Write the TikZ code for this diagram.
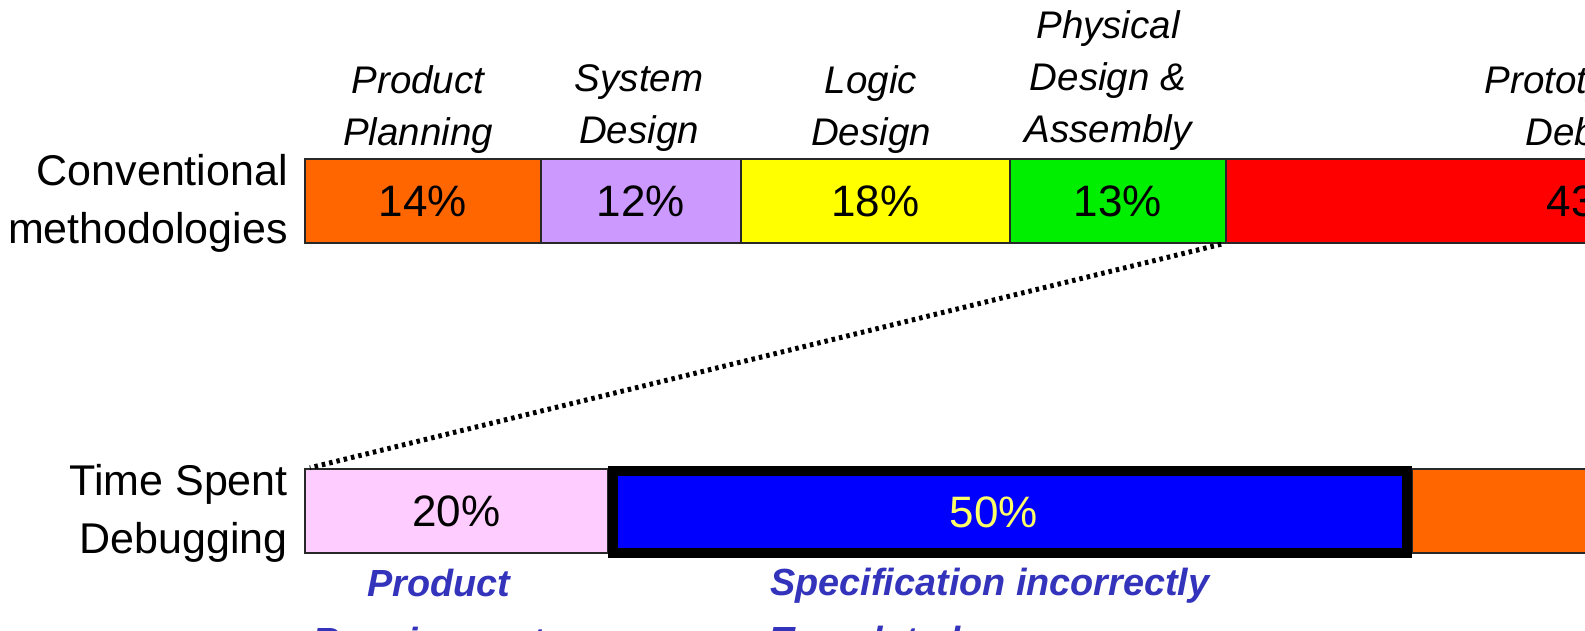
\documentclass[tikz,border=0pt]{standalone}
\usepackage{fontspec}
\setmainfont{Liberation Sans}
\definecolor{cOrange}{RGB}{255,102,0}
\definecolor{cPurple}{RGB}{204,153,255}
\definecolor{cYellow}{RGB}{255,255,0}
\definecolor{cGreen}{RGB}{0,238,0}
\definecolor{cRed}{RGB}{255,0,0}
\definecolor{cPink}{RGB}{255,204,255}
\definecolor{cBlue}{RGB}{0,0,255}
\definecolor{cLabel}{RGB}{51,51,187}
\definecolor{cPale}{RGB}{255,255,102}
\definecolor{cEdge}{RGB}{40,40,40}
\begin{document}
\begin{tikzpicture}[x=1pt,y=-1pt,
  seg/.style={draw=cEdge, line width=1.3pt, inner sep=0pt, outer sep=0pt,
    anchor=north west, minimum height=84pt, font=\fontsize{44}{44}\selectfont},
  phase/.style={anchor=north, align=center, inner sep=0pt,
    font=\fontsize{38.5}{52}\selectfont\itshape},
  rowlabel/.style={anchor=north east, align=right, inner sep=0pt,
    font=\fontsize{43}{58}\selectfont},
  cause/.style={anchor=north, inner sep=0pt, text=cLabel,
    font=\fontsize{37.8}{58}\selectfont\bfseries\itshape},
  dotline/.style={line width=5pt, dash pattern=on 3.5pt off 4pt}
]
\useasboundingbox (0,0) rectangle (1585,630);
\clip (0,0) rectangle (1585,630);

% row labels
\node[rowlabel] (conv) at (288,154) {Conventional\\methodologies};
\node[rowlabel] (tsd) at (288,464) {Time Spent\\Debugging};

% top bar
\node[seg, fill=cOrange, minimum width=236pt] (pp) at (305,159) {14\%};
\node[seg, fill=cPurple, minimum width=200pt] (sd) at (541,159) {12\%};
\node[seg, fill=cYellow, minimum width=269pt] (ld) at (741,159) {18\%};
\node[seg, fill=cGreen, minimum width=216pt] (pd) at (1010,159) {13\%};
\node[seg, fill=cRed, minimum width=730pt] (pr) at (1226,159) {43\%};

% phase labels
\node[phase] (lpp) at (418,65) {Product\\Planning};
\node[phase] (lsd) at (639,64.5) {System\\Design};
\node[phase] (lld) at (871,65) {Logic\\Design};
\node[phase] (lpd) at (1108,10) {Physical\\Design \&\\Assembly};
\node[phase] (lpr) at (1582,65) {Prototyping\\Debug};

% bottom bar
\node[seg, fill=cPink, minimum width=303pt] (req) at (305,469) {20\%};
\node[seg, fill=cOrange, minimum width=420pt] (impl) at (1412,469) {};
\node[draw=black, line width=10pt, fill=cBlue, text=cPale, inner sep=0pt,
  minimum width=794pt, minimum height=82pt,
  font=\fontsize{44}{44}\selectfont] (spec) at (1010,512) {\hspace*{-32pt}50\%};

% zoom connector
\draw[dotline, shorten <=5pt, shorten >=5pt] (pd.south east) -- (req.north west);

% cause labels
\node[cause, align=center] (lreq) at (439,568.5) {Product\\Requirements};
\node[cause, align=left] (lspec) at (990,568) {Specification incorrectly\\Translated};
\end{tikzpicture}
\end{document}
